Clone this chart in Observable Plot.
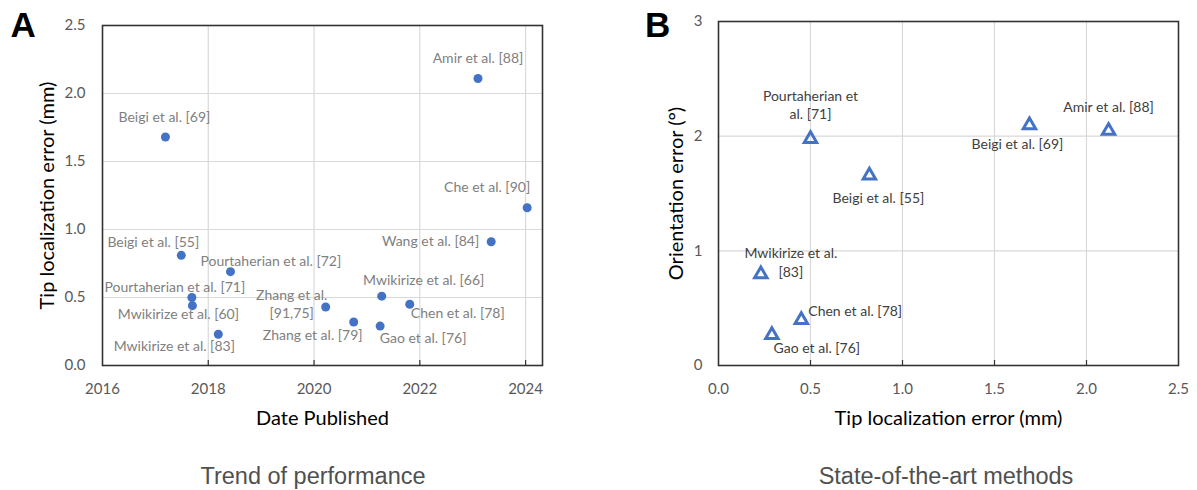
<!DOCTYPE html>
<html>
<head>
<meta charset="utf-8">
<script src="https://cdn.jsdelivr.net/npm/d3@7"></script>
<script src="https://cdn.jsdelivr.net/npm/@observablehq/plot@0.6"></script>
<style>
  html, body { margin: 0; padding: 0; background: #ffffff; }
  #wrap { position: relative; width: 1197px; height: 490px; overflow: hidden; background: #fff; }
  .panel { position: absolute; top: 0; }
  .letter { position: absolute; top: 7px; font-family: "Liberation Sans", Arial, sans-serif; font-weight: bold; font-size: 35px; line-height: 35px; color: #000; }
  .caption { position: absolute; top: 465px; font-family: "Liberation Sans", Arial, sans-serif; font-size: 23.5px; line-height: 23.5px; color: #505050; transform: translateX(-50%); white-space: nowrap; }
</style>
</head>
<body>
<div id="wrap">
  <div id="panelA" class="panel" style="left:0px"></div>
  <div id="panelB" class="panel" style="left:598px"></div>
  <div class="letter" style="left:10.5px">A</div>
  <div class="letter" style="left:645px">B</div>
  <div class="caption" style="left:313px">Trend of performance</div>
  <div class="caption" style="left:946px">State-of-the-art methods</div>
</div>
<script>
// ---------- Panel A data: tip localization error vs. date published ----------
const namesA = [
  "Beigi et al. [69]", "Amir et al. [88]", "Che et al. [90]", "Wang et al. [84]",
  "Beigi et al. [55]", "Pourtaherian et al. [72]", "Pourtaherian et al. [71]",
  "Mwikirize et al. [60]", "Mwikirize et al. [83]", "Zhang et al.\n[91,75]",
  "Zhang et al. [79]", "Mwikirize et al. [66]", "Gao et al. [76]", "Chen et al. [78]"
];
const yearA = [2017.19, 2023.10, 2024.03, 2023.35, 2017.49, 2018.42, 2017.69,
               2017.70, 2018.19, 2020.22, 2020.75, 2021.28, 2021.25, 2021.81];
const tipErrA = [1.68, 2.11, 1.16, 0.91, 0.81, 0.69, 0.50,
                 0.44, 0.23, 0.43, 0.32, 0.51, 0.29, 0.45];
const xTicksA = [2016, 2018, 2020, 2022, 2024];
const yTicksA = [0, 0.5, 1.0, 1.5, 2.0, 2.5];

// ---------- Panel B data: orientation error vs. tip localization error ----------
const namesB = [
  "Pourtaherian et\nal. [71]", "Beigi et al. [55]", "Beigi et al. [69]", "Amir et al. [88]",
  "Mwikirize et al.\n[83]", "Chen et al. [78]", "Gao et al. [76]"
];
const tipErrB = [0.50, 0.82, 1.69, 2.12, 0.23, 0.45, 0.29];
const orientErrB = [1.99, 1.67, 2.11, 2.06, 0.81, 0.41, 0.28];
const xTicksB = [0, 0.5, 1.0, 1.5, 2.0, 2.5];
const yTicksB = [0, 1, 2, 3];

// ---------- label placement (offset from point in px, text anchor) ----------
const labelLayoutA = [
  [-1, -21, "middle"], [0, -21, "middle"], [3, -22, "end"], [-12, -2, "end"],
  [-28, -14, "middle"], [-30, -11, "start"], [-17, -11, "middle"],
  [-14, 8, "middle"], [-44, 11, "middle"], [-34, -4, "middle"],
  [-41, 12, "middle"], [42, -17, "middle"], [43, 11, "middle"], [48, 8, "middle"]
];
const labelLayoutB = [
  [0, -33, "middle"], [9, 23, "middle"], [-12, 20, "middle"], [0, -23, "middle"],
  [30, -11, "middle"], [7, -8, "start"], [45, 14, "middle"]
];

const blue = "#4472C4";
const gridColor = "#d9d9d9";
const frameColor = "#333333";
const tickColor = "#595959";

const baseStyle = {fontFamily: "Lato, 'Open Sans', sans-serif", fontSize: "14px", background: "transparent", overflow: "visible"};

// ---------------- Panel A ----------------
const idxA = d3.range(namesA.length);
const plotA = Plot.plot({
  width: 598, height: 440,
  marginLeft: 102, marginRight: 56, marginTop: 25, marginBottom: 75,
  style: baseStyle,
  x: {domain: [2016, 2024.32], label: null},
  y: {domain: [0, 2.5], label: null},
  marks: [
    Plot.gridX({ticks: xTicksA.slice(1), stroke: gridColor, strokeOpacity: 1, strokeWidth: 1.2}),
    Plot.gridY({ticks: yTicksA.slice(1, -1), stroke: gridColor, strokeOpacity: 1, strokeWidth: 1.2}),
    Plot.tickX(xTicksA.slice(1), {x: d => d, stroke: frameColor, strokeWidth: 1.2, insetTop: 335}),
    Plot.frame({stroke: frameColor, strokeWidth: 1.6}),
    Plot.axisX({ticks: xTicksA, tickSize: 0, tickPadding: 18, fontSize: 15, color: tickColor, label: null, tickFormat: d => String(d)}),
    Plot.axisY({ticks: yTicksA, tickSize: 0, tickPadding: 17, fontSize: 15, color: tickColor, label: null, tickFormat: d3.format(".1f")}),
    Plot.text(["Date Published"], {frameAnchor: "bottom", dy: 53, textAnchor: "middle", lineAnchor: "middle", fontSize: 20, fill: "#000"}),
    Plot.text(["Tip localization error (mm)"], {frameAnchor: "left", dx: -55, rotate: -90, textAnchor: "middle", lineAnchor: "middle", fontSize: 20, fill: "#000"}),
    Plot.dot(idxA, {x: i => yearA[i], y: i => tipErrA[i], r: 4.5, fill: blue, stroke: "none"}),
    ...idxA.map(i => Plot.text([i], {
      x: j => yearA[j], y: j => tipErrA[j], text: j => namesA[j],
      dx: labelLayoutA[i][0], dy: labelLayoutA[i][1], textAnchor: labelLayoutA[i][2],
      fontSize: 14, fill: "#808080", lineHeight: 1.3
    }))
  ]
});
document.getElementById("panelA").appendChild(plotA);

// ---------------- Panel B ----------------
const idxB = d3.range(namesB.length);
const plotB = Plot.plot({
  width: 599, height: 440,
  marginLeft: 120, marginRight: 19, marginTop: 21, marginBottom: 75,
  style: baseStyle,
  x: {domain: [0, 2.5], label: null},
  y: {domain: [0, 3], label: null},
  marks: [
    Plot.gridX({ticks: xTicksB.slice(1, -1), stroke: gridColor, strokeOpacity: 1, strokeWidth: 1.2}),
    Plot.gridY({ticks: yTicksB.slice(1, -1), stroke: gridColor, strokeOpacity: 1, strokeWidth: 1.2}),
    Plot.tickX(xTicksB.slice(1, -1), {x: d => d, stroke: frameColor, strokeWidth: 1.2, insetTop: 339}),
    Plot.frame({stroke: frameColor, strokeWidth: 1.6}),
    Plot.axisX({ticks: xTicksB, tickSize: 0, tickPadding: 18, fontSize: 15, color: tickColor, label: null, tickFormat: d3.format(".1f")}),
    Plot.axisY({ticks: yTicksB, tickSize: 0, tickPadding: 16, fontSize: 15, color: tickColor, label: null, tickFormat: d => String(d)}),
    Plot.text(["Tip localization error (mm)"], {frameAnchor: "bottom", dy: 53, textAnchor: "middle", lineAnchor: "middle", fontSize: 20, fill: "#000"}),
    Plot.text(["Orientation error (°)"], {frameAnchor: "left", dx: -42, rotate: -90, textAnchor: "middle", lineAnchor: "middle", fontSize: 20, fill: "#000"}),
    Plot.dot(idxB, {x: i => tipErrB[i], y: i => orientErrB[i], symbol: "triangle", r: 4.6, fill: "none", stroke: blue, strokeWidth: 3, strokeLinejoin: "miter", dy: 1.5}),
    ...idxB.map(i => Plot.text([i], {
      x: j => tipErrB[j], y: j => orientErrB[j], text: j => namesB[j],
      dx: labelLayoutB[i][0], dy: labelLayoutB[i][1], textAnchor: labelLayoutB[i][2],
      fontSize: 14, fill: "#404040", lineHeight: 1.3
    }))
  ]
});
document.getElementById("panelB").appendChild(plotB);
</script>
</body>
</html>
